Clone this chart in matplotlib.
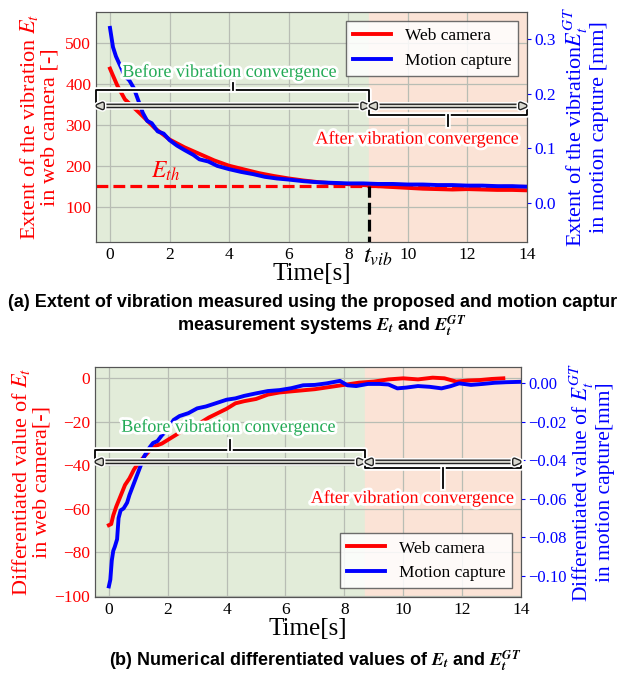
import numpy as np
import matplotlib.pyplot as plt
import matplotlib.patheffects as pe

plt.rcParams['font.family'] = 'Liberation Serif'
plt.rcParams['mathtext.fontset'] = 'stix'

# threshold / convergence time
t_vib = 8.7
E_th = 150

# (a) extent of vibration, web camera [-]
ta_cam = [0, 0.1, 0.25, 0.5, 0.75, 1.0, 1.5, 2.0, 2.5, 3.0, 3.5, 4.0, 4.5, 5.0, 5.5, 6.0,
          6.5, 7.0, 7.5, 8.0, 8.7, 9.0, 9.5, 10, 10.5, 11, 11.5, 12, 12.5, 13, 13.5, 14]
Ea_cam = [437, 420, 395, 362, 345, 328, 292, 264, 245, 229, 213, 200, 191, 182, 175, 169,
          164, 160, 157, 155, 152, 150, 148, 146, 144, 143, 142, 143, 142, 141, 141, 140]
# (a) extent of vibration, motion capture [mm]
ta_mc = [0, 0.1, 0.2, 0.35, 0.5, 0.65, 0.8, 1.0, 1.1, 1.25, 1.4, 1.6, 1.8, 2.0, 2.25, 2.5,
         2.8, 3.0, 3.3, 3.6, 4.0, 4.4, 4.8, 5.2, 5.6, 6.0, 6.5, 7.0, 7.5, 8.0, 8.5, 9.0,
         9.5, 10, 10.5, 11, 11.5, 12, 12.5, 13, 13.5, 14]
Ea_mc = [0.320, 0.285, 0.268, 0.250, 0.232, 0.224, 0.210, 0.180, 0.165, 0.150, 0.146, 0.131,
         0.127, 0.115, 0.105, 0.097, 0.088, 0.080, 0.076, 0.068, 0.062, 0.057, 0.053, 0.048,
         0.045, 0.043, 0.040, 0.038, 0.037, 0.036, 0.036, 0.035, 0.035, 0.034, 0.034, 0.033,
         0.033, 0.032, 0.032, 0.031, 0.031, 0.030]

# (b) differentiated value, web camera [-]
tb_cam = [0, 0.08, 0.15, 0.25, 0.4, 0.55, 0.7, 0.85, 1.0, 1.2, 1.4, 1.6, 1.8, 2.1, 2.4, 2.8,
          3.1, 3.4, 3.7, 4.0, 4.3, 4.6, 5.0, 5.4, 5.8, 6.2, 6.6, 7.0, 7.5, 8.0, 8.5, 9.0,
          9.5, 10.0, 10.5, 11.0, 11.4, 11.8, 12.2, 12.6, 13.0, 13.4]
Db_cam = [-67.5, -67, -63, -59, -54, -49, -46, -42, -39, -36, -33, -31, -30, -27.5, -25, -22,
          -20.5, -18, -16, -14, -11.5, -10.5, -9.5, -7.5, -6.5, -6, -5.5, -5, -4, -3, -2, -1.5,
          -0.5, 0, -0.5, 0.3, 0, -1.5, -1, -0.8, -0.3, 0]
# (b) differentiated value, motion capture [mm]
tb_mc = [0, 0.05, 0.1, 0.15, 0.2, 0.28, 0.33, 0.4, 0.5, 0.62, 0.7, 0.8, 0.9, 1.0, 1.1, 1.2,
         1.35, 1.5, 1.65, 1.8, 2.0, 2.2, 2.4, 2.7, 3.0, 3.3, 3.6, 4.0, 4.3, 4.6, 5.0, 5.4,
         5.8, 6.2, 6.6, 7.0, 7.4, 7.85, 8.1, 8.4, 8.8, 9.2, 9.5, 9.8, 10.1, 10.5, 10.9, 11.3,
         11.6, 11.9, 12.3, 12.7, 13.1, 13.5, 14.0]
Db_mc = [-0.1055, -0.102, -0.092, -0.087, -0.085, -0.081, -0.070, -0.066, -0.065, -0.062,
         -0.058, -0.054, -0.050, -0.046, -0.042, -0.038, -0.034, -0.031, -0.030, -0.027,
         -0.024, -0.019, -0.017, -0.0155, -0.013, -0.012, -0.0105, -0.0085, -0.0078, -0.0065,
         -0.0052, -0.004, -0.0035, -0.0025, -0.001, -0.0008, 0.0, 0.0013, -0.001, -0.0014,
         -0.0003, -0.0003, -0.0006, -0.0026, -0.0022, -0.0014, -0.0018, -0.0026, -0.0015, 0.0,
         -0.0008, -0.0003, 0.0003, 0.0006, 0.0008]

xticks = [0, 2, 4, 6, 8, 10, 12, 14]
xlim = (-0.47, 14)

GREEN_BG = '#e2ecd9'
ORANGE_BG = '#fbe3d6'
halo = [pe.withStroke(linewidth=4, foreground='white')]
arrow_fx = [pe.Stroke(linewidth=5.5, foreground='white'),
            pe.Stroke(linewidth=3.4, foreground='#222222'),
            pe.Stroke(linewidth=1.4, foreground='#d8d8d0')]


def brace(ax, tr, x0, x1, y_bar, y_tip, y_stem):
    xc = (x0 + x1) / 2
    ax.plot([x0, x0, x1, x1], [y_tip, y_bar, y_bar, y_tip], color='k', lw=1.3,
            transform=tr, path_effects=halo, zorder=6, clip_on=False)
    ax.plot([xc, xc], [y_bar, y_stem], color='k', lw=1.3, transform=tr,
            path_effects=halo, zorder=6)


def arrows(ax, tr, y):
    for a, b in [(xlim[0], t_vib), (t_vib, xlim[1])]:
        ax.annotate('', xy=(a, y), xytext=(b, y), xycoords=tr, textcoords=tr,
                    arrowprops=dict(arrowstyle='<|-|>,head_length=0.35,head_width=0.15',
                                    color='#d8d8d0', lw=1.0, shrinkA=0, shrinkB=0,
                                    path_effects=arrow_fx), zorder=7)


def setup(ax, ax2):
    ax.set_xlim(*xlim)
    ax.set_xticks(xticks)
    ax.axvspan(xlim[0], t_vib, color=GREEN_BG, zorder=0)
    ax.axvspan(t_vib, xlim[1], color=ORANGE_BG, zorder=0)
    ax.grid(True, color='#b8bdb4', lw=0.9)
    ax.set_axisbelow(True)
    ax.tick_params(axis='both', length=0, labelsize=12.5)
    ax.tick_params(axis='y', colors='red')
    ax.tick_params(axis='x', colors='black')
    ax2.tick_params(axis='y', colors='blue', labelsize=12.5, length=3, pad=2)
    for a in (ax, ax2):
        for s in a.spines.values():
            s.set_color('#555555')
    ax.set_xlabel('Time[s]', fontsize=18, labelpad=0)


fig = plt.figure(figsize=(6.17, 6.79), dpi=100)

# ---------------- (a) ----------------
ax = fig.add_axes([0.1556, 0.6436, 0.6985, 0.3387])
ax2 = ax.twinx()
setup(ax, ax2)
l1, = ax.plot(ta_cam, Ea_cam, color='red', lw=2.8, label='Web camera', zorder=3)
l2, = ax2.plot(ta_mc, Ea_mc, color='blue', lw=2.8, label='Motion capture', zorder=3)
ax.axhline(E_th, color='red', ls='--', lw=2.3, zorder=2)
ax.plot([t_vib, t_vib], [0, E_th], color='k', ls='--', lw=2.3, zorder=4)
ax.set_ylim(14, 575)
ax.set_yticks([100, 200, 300, 400, 500])
ax2.set_ylim(-0.071, 0.349)
ax2.set_yticks([0.0, 0.1, 0.2, 0.3])
ax2.set_yticklabels(['0.0', '0.1', '0.2', '0.3'])
ax.set_ylabel('Extent of the vibration $E_t$\nin web camera [-]', color='red', fontsize=16,
              labelpad=4, linespacing=1.05)
ax2.set_ylabel('Extent of the vibration$E_t^{GT}$\nin motion capture [mm]', color='blue',
               fontsize=16, labelpad=4, linespacing=1.05)

tr = ax.transData
brace(ax2, tr, xlim[0], t_vib, 385, 346, 402)
brace(ax2, tr, t_vib, xlim[1], 324, 346, 298)
arrows(ax2, tr, 346)
ax2.text(4.0, 429, 'Before vibration convergence', transform=tr, color='#22aa55',
         fontsize=13, ha='center', va='center', path_effects=halo, zorder=8)
ax2.text(10.3, 266, 'After vibration convergence', transform=tr, color='red',
         fontsize=13, ha='center', va='center', path_effects=halo, zorder=8)
ax.text(1.85, 186, '$E_{th}$', color='red', fontsize=17, ha='center', va='center')
ax.text(9.0, -0.065, '$t_{vib}$', transform=ax.get_xaxis_transform(), fontsize=18,
        ha='center', va='center')
ax2.legend(handles=[l1, l2], loc='upper right', fontsize=12.5, handlelength=2.2,
           framealpha=0.85, edgecolor='#555555', fancybox=False)

# ---------------- (b) ----------------
bx = fig.add_axes([0.154, 0.1208, 0.6904, 0.3387])
bx2 = bx.twinx()
setup(bx, bx2)
bx2.tick_params(axis='y', labelsize=12)
m1, = bx.plot(tb_cam, Db_cam, color='red', lw=2.8, label='Web camera', zorder=3)
m2, = bx2.plot(tb_mc, Db_mc, color='blue', lw=2.8, label='Motion capture', zorder=3)
bx.set_ylim(-100.5, 5.2)
bx.set_yticks([-100, -80, -60, -40, -20, 0])
bx2.set_ylim(-0.111, 0.0085)
bx2.set_yticks([-0.10, -0.08, -0.06, -0.04, -0.02, 0.00])
bx2.set_yticklabels(['\u22120.10', '\u22120.08', '\u22120.06', '\u22120.04', '\u22120.02', '0.00'])
bx.set_ylabel('Differentiated value of $E_t$\nin web camera[-]', color='red', fontsize=16,
              labelpad=2, linespacing=1.05)
bx2.set_ylabel('Differentiated value of $E_t^{GT}$\nin motion capture[mm]', color='blue',
               fontsize=15.5, labelpad=1, linespacing=1.0)

tr = bx.transData
brace(bx2, tr, xlim[0], t_vib, -33, -38.4, -28.3)
brace(bx2, tr, t_vib, xlim[1], -41.3, -38.4, -50.5)
arrows(bx2, tr, -38.4)
bx2.text(4.05, -22.3, 'Before vibration convergence', transform=tr, color='#22aa55',
         fontsize=13, ha='center', va='center', path_effects=halo, zorder=8)
bx2.text(10.3, -55, 'After vibration convergence', transform=tr, color='red',
         fontsize=13, ha='center', va='center', path_effects=halo, zorder=8)
bx2.legend(handles=[m1, m2], loc='lower right', fontsize=12.5, handlelength=2.2,
           framealpha=0.85, edgecolor='#555555', fancybox=False)

# captions
cap = dict(family='Liberation Sans', weight='bold', fontsize=13)
fig.text(0.013, 0.555, '(a) Extent of vibration measured using the proposed and motion capture',
         ha='left', va='center', **cap)
fig.text(0.522, 0.521, r'measurement systems $\mathbfit{E_t}$ and $\mathbfit{E_t^{GT}}$',
         ha='center', va='center', **cap)
fig.text(0.51, 0.027, r'(b) Numerical differentiated values of $\mathbfit{E_t}$ and $\mathbfit{E_t^{GT}}$',
         ha='center', va='center', **cap)

fig.savefig('out.png', dpi=100)
